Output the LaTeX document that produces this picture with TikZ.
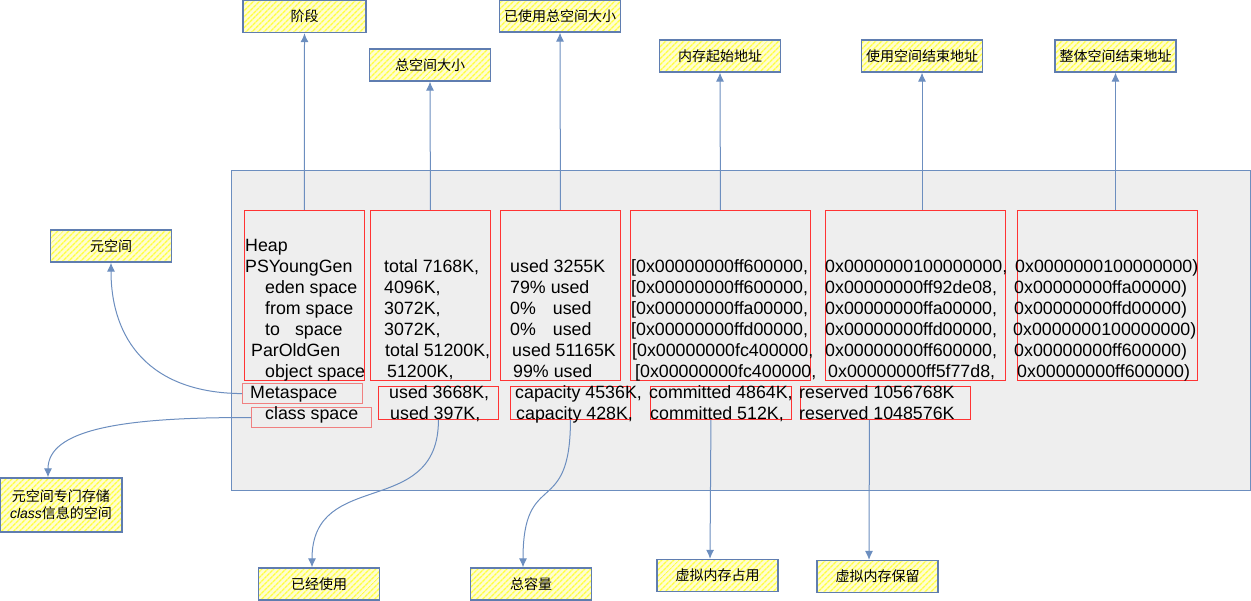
\documentclass[tikz,border=0pt]{standalone}
\usepackage{fontspec}
\setmainfont{Liberation Sans}
\newfontfamily\cjk{Noto Sans CJK SC}
\usetikzlibrary{arrows.meta, patterns.meta}

\definecolor{linkblue}{HTML}{6C8EBF}
\definecolor{notebd}{HTML}{5F7DB0}
\definecolor{panel}{HTML}{EEEEEE}
\definecolor{boxred}{HTML}{FF3333}
\definecolor{boxpink}{HTML}{F08080}

\tikzset{
    note/.style={draw=notebd, line width=1.2pt, preaction={fill=yellow!18},
        pattern={Lines[angle=45,distance=4pt,line width=1.4pt]}, pattern color=yellow!75,
        minimum width=121pt, minimum height=32pt, inner sep=2pt,
        font=\cjk\fontsize{14}{17}\selectfont, align=center},
    redbox/.style={draw=boxred, line width=0.9pt, anchor=north west, inner sep=0pt},
    pinkbox/.style={draw=boxpink, line width=1.2pt, anchor=north west, inner sep=0pt},
    txt/.style={anchor=base west, inner sep=0pt, font=\fontsize{17.8}{21}\selectfont},
    conn/.style={draw=linkblue, line width=1pt, -{Latex[length=9pt,width=8pt]}}
}

\begin{document}
\begin{tikzpicture}[x=1pt, y=-1pt]
    \useasboundingbox (0,0) rectangle (1251,601);

    % Fundo
    \draw[linkblue, fill=panel, line width=0.9pt] (231,170) rectangle (1250,490);

    % Caixas vermelhas (colunas)
    \node[redbox, minimum width=120pt, minimum height=170pt] (heapbox) at (244,210) {};
    \node[redbox, minimum width=120pt, minimum height=170pt] (totalbox) at (370,210) {};
    \node[redbox, minimum width=120pt, minimum height=170pt] (usedbox) at (500,210) {};
    \node[redbox, minimum width=180pt, minimum height=170pt] (startbox) at (630,210) {};
    \node[redbox, minimum width=180pt, minimum height=170pt] (endbox) at (825,210) {};
    \node[redbox, minimum width=180pt, minimum height=170pt] (limitbox) at (1017,210) {};

    % Caixas do Metaspace
    \node[pinkbox, minimum width=120pt, minimum height=20pt] (metabox) at (242,383) {};
    \node[pinkbox, minimum width=120pt, minimum height=20pt] (classbox) at (251,407) {};
    \node[redbox, minimum width=120pt, minimum height=33pt] (metaused) at (378,386) {};
    \node[redbox, minimum width=120pt, minimum height=33pt] (metacap) at (510,386) {};
    \node[redbox, minimum width=141pt, minimum height=33pt] (metacom) at (650,386) {};
    \node[redbox, minimum width=170pt, minimum height=33pt] (metares) at (800,386) {};

    % Texto da saida
    \foreach \x/\t [count=\i] in {245/Heap, 245/PSYoungGen, 265/eden space, 265/from space,
        265/{to\hspace{15pt}space}, 251/ParOldGen, 265/object space, 250/Metaspace, 265/class space}
        \node[txt] at (\x,231+21*\i) {\t};
    \foreach \x/\t [count=\i from 2] in {384/{total 7168K,}, 384/{4096K,}, 384/{3072K,}, 384/{3072K,},
        385/{total 51200K,}, 387/{51200K,}, 389/{used 3668K,}, 390/{used 397K,}}
        \node[txt] at (\x,231+21*\i) {\t};
    \foreach \x/\t [count=\i from 2] in {510/used 3255K, 510/79\% used, 510/{0\%\hspace{17pt}used},
        510/{0\%\hspace{17pt}used}, 512/used 51165K, 513/99\% used, 515/{capacity 4536K,}, 516/{capacity 428K,}}
        \node[txt] at (\x,231+21*\i) {\t};
    \foreach \x/\t [count=\i from 2] in {631/{[0x00000000ff600000,}, 631/{[0x00000000ff600000,},
        631/{[0x00000000ffa00000,}, 631/{[0x00000000ffd00000,}, 632/{[0x00000000fc400000,},
        635/{[0x00000000fc400000,}, 649/{committed 4864K,}, 650/{committed 512K,}}
        \node[txt] at (\x,231+21*\i) {\t};
    \foreach \x/\t [count=\i from 2] in {825/{0x0000000100000000,}, 825/{0x00000000ff92de08,},
        825/{0x00000000ffa00000,}, 825/{0x00000000ffd00000,}, 825/{0x00000000ff600000,},
        828/{0x00000000ff5f77d8,}, 799/reserved 1056768K, 799/reserved 1048576K}
        \node[txt] at (\x,231+21*\i) {\t};
    \foreach \x/\t [count=\i from 2] in {1015/0x0000000100000000), 1014/0x00000000ffa00000),
        1014/0x00000000ffd00000), 1013/0x0000000100000000), 1014/0x00000000ff600000),
        1017/0x00000000ff600000)}
        \node[txt] at (\x,231+21*\i) {\t};

    % Notas
    \node[note, minimum width=123pt] (lblphase) at (304.5,16.5) {阶段};
    \node[note] (lbltotal) at (430,65) {总空间大小};
    \node[note] (lblused) at (560,16) {已使用总空间大小};
    \node[note] (lblstart) at (720,56) {内存起始地址};
    \node[note] (lblusedend) at (922,56) {使用空间结束地址};
    \node[note] (lblend) at (1115.5,56) {整体空间结束地址};
    \node[note] (lblmeta) at (111,246) {元空间};
    \node[note, minimum width=122pt, minimum height=54pt] (lblclass) at (61,505)
        {元空间专门存储\\{\fontspec{Liberation Sans}\itshape class}信息的空间};
    \node[note] (lblmused) at (319,584) {已经使用};
    \node[note] (lblmcap) at (531,584) {总容量};
    \node[note] (lblmcom) at (717.5,575.5) {虚拟内存占用};
    \node[note] (lblmres) at (877.5,576.5) {虚拟内存保留};

    % Ligacoes
    \draw[conn] (heapbox.north) -- (lblphase.south);
    \draw[conn] (totalbox.north) -- (lbltotal.south);
    \draw[conn] (usedbox.north) -- (lblused.south);
    \draw[conn] (startbox.north) -- (lblstart.south);
    \draw[conn] (lblusedend.south |- endbox.north) -- (lblusedend.south);
    \draw[conn] (lblend.south |- limitbox.north) -- (lblend.south);
    \draw[conn] (metabox.west) .. controls (150,393) and (111,340) .. (lblmeta.south);
    \draw[conn] (classbox.west) .. controls (120,417) and (48,430) .. ([xshift=-13pt]lblclass.north);
    \draw[conn] (metaused.south) .. controls +(0,100) and +(0,-100) .. ([xshift=-7pt]lblmused.north);
    \draw[conn] (metacap.south) .. controls +(0,100) and +(0,-100) .. ([xshift=-8pt]lblmcap.north);
    \draw[conn] ([xshift=-10pt]metacom.south) -- ([xshift=-7.5pt]lblmcom.north);
    \draw[conn] ([xshift=-16pt]metares.south) -- ([xshift=-8.5pt]lblmres.north);

\end{tikzpicture}
\end{document}
